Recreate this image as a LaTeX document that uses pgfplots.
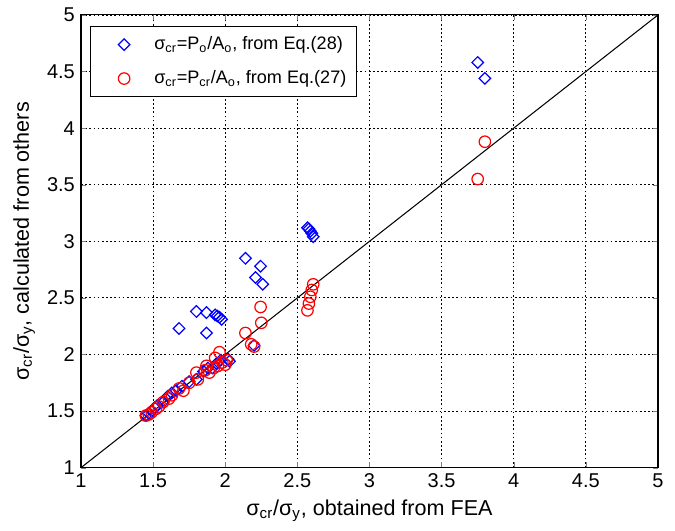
\documentclass[border=0pt]{standalone}
\usepackage{fontspec}
\setmainfont{Liberation Sans}
\usepackage{pgfplots}
\pgfplotsset{compat=1.18}

\definecolor{mblue}{RGB}{0,0,255}
\definecolor{mred}{RGB}{255,0,0}

\pgfplotsset{
  wide mark legend/.style={
    legend image code/.code={\path (0pt,0pt) (30pt,0pt); \draw[##1] plot coordinates {(15pt,0pt)};}
  }
}

% diamonds: sigma_cr = P_o/A_o, Eq.(28)
\pgfplotstableread{
x y
1.45 1.46
1.47 1.48
1.49 1.50
1.51 1.53
1.53 1.55
1.57 1.58
1.60 1.63
1.63 1.66
1.66 1.68
1.70 1.72
1.75 1.76
1.80 1.78
1.85 1.85
1.88 1.88
1.91 1.88
1.94 1.92
1.97 1.95
2.02 1.96
2.03 1.94
2.20 2.08
1.68 2.23
1.80 2.38
1.87 2.37
1.87 2.19
1.93 2.35
1.945 2.34
1.96 2.33
1.975 2.31
2.14 2.85
2.245 2.78
2.21 2.68
2.26 2.62
2.57 3.12
2.58 3.11
2.59 3.09
2.60 3.07
2.61 3.04
3.75 4.58
3.80 4.44
}\eqtwentyeight

% circles: sigma_cr = P_cr/A_o, Eq.(27)
\pgfplotstableread{
x y
1.45 1.46
1.47 1.47
1.49 1.49
1.52 1.52
1.54 1.54
1.57 1.58
1.61 1.61
1.63 1.64
1.68 1.70
1.71 1.68
1.75 1.75
1.81 1.78
1.80 1.84
1.86 1.86
1.87 1.90
1.89 1.84
1.92 1.88
1.93 1.97
1.95 1.90
1.96 2.02
1.98 1.93
2.00 1.91
2.01 1.95
2.14 2.19
2.18 2.09
2.20 2.07
2.245 2.42
2.25 2.28
2.57 2.39
2.58 2.45
2.59 2.51
2.60 2.57
2.61 2.62
3.75 3.55
3.80 3.88
}\eqtwentyseven

\begin{document}
\begin{tikzpicture}
\begin{axis}[
  name=ax,
  scale only axis,
  width=332pt, height=260.5pt,
  xmin=1, xmax=5, ymin=1, ymax=5,
  xtick={1,1.5,...,5}, ytick={1,1.5,...,5},
  /pgf/number format/assume math mode=true,
  font=\fontsize{11.5}{13}\selectfont,
  tick align=inside, tick pos=both,
  major tick length=3pt,
  axis line style={line width=0.6pt},
  grid=major,
  major grid style={black, line width=0.5pt, dash pattern=on 1pt off 1.4pt},
  xlabel={σ\textsubscript{cr}/σ\textsubscript{y}, obtained from FEA},
  ylabel={σ\textsubscript{cr}/σ\textsubscript{y}, calculated from others},
  label style={font=\fontsize{12.4}{14}\selectfont},
  legend style={at={(0.0156,0.976)}, anchor=north west, draw=black,
    line width=0.6pt, font=\fontsize{10.4}{12}\selectfont,
    inner xsep=4pt, inner ysep=4pt, row sep=6.5pt},
  legend cell align=left,
]
\addplot[only marks, mark=square, mark size=2.35pt, mblue, line width=0.7pt,
  mark options={rotate=45}, wide mark legend]
  table {\eqtwentyeight};
\addlegendentry{σ\textsubscript{cr}=P\textsubscript{o}/A\textsubscript{o}, from Eq.(28)}
\addplot[only marks, mark=o, mark size=3.3pt, mred, line width=0.7pt,
  wide mark legend]
  table {\eqtwentyseven};
\addlegendentry{σ\textsubscript{cr}=P\textsubscript{cr}/A\textsubscript{o}, from Eq.(27)}
\addplot[black, line width=0.6pt, forget plot] coordinates {(1,1) (5,5)};
\end{axis}
\pgfresetboundingbox
\path ([shift={(-46.6pt,-36.2pt)}]ax.south west) ([shift={(9.8pt,8.6pt)}]ax.north east);
\end{tikzpicture}
\end{document}
